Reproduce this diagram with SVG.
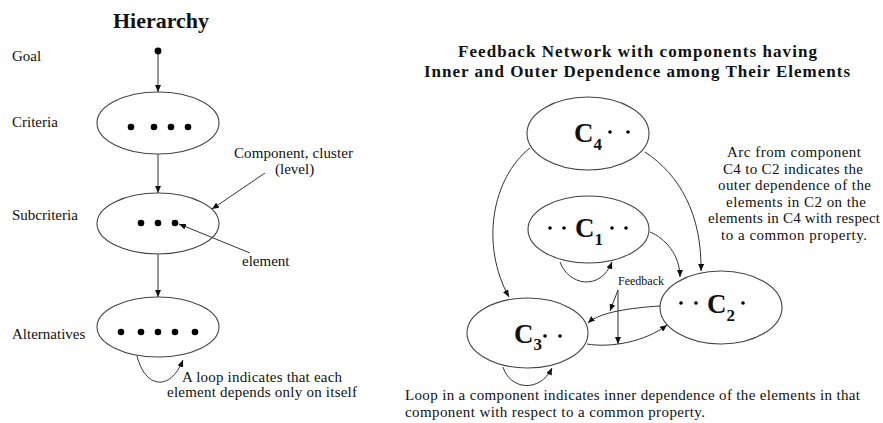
<svg xmlns="http://www.w3.org/2000/svg" width="883" height="423" viewBox="0 0 883 423">
<style>
text{font-family:"Liberation Serif","Times New Roman",serif;fill:#111}
.t{font-size:15px}
.ti{font-size:22px;font-weight:bold}
.tr{font-size:17px;font-weight:bold}
.cl{font-size:27px;font-weight:bold}
.sub{font-size:17px}
.fb{font-size:12px}
.ell{fill:#fff;stroke:#444;stroke-width:1.1}
.ln{fill:none;stroke:#333;stroke-width:1}
.dot{fill:#000}
</style>
<defs>
<marker id="ah" markerWidth="7" markerHeight="6" refX="7" refY="3" orient="auto" markerUnits="userSpaceOnUse">
<path d="M0,0 L7,3 L0,6 z" fill="#111"/>
</marker>
</defs>
<rect width="883" height="423" fill="#fff"/>

<text class="ti" x="161" y="28" text-anchor="middle">Hierarchy</text>
<text class="t" x="12" y="61">Goal</text>
<text class="t" x="12" y="127">Criteria</text>
<text class="t" x="12" y="220">Subcriteria</text>
<text class="t" x="12" y="339">Alternatives</text>

<g id="goal"><circle class="dot" cx="158" cy="51" r="3.4"/></g>
<g id="criteria">
<ellipse class="ell" cx="158" cy="123" rx="61" ry="31"/>
<circle class="dot" cx="131" cy="127" r="3.3"/><circle class="dot" cx="154" cy="127" r="3.3"/><circle class="dot" cx="171" cy="127" r="3.3"/><circle class="dot" cx="188" cy="127" r="3.3"/>
</g>
<g id="subcriteria">
<ellipse class="ell" cx="158" cy="223.5" rx="61" ry="30.5"/>
<circle class="dot" cx="141" cy="223" r="3.3"/><circle class="dot" cx="158" cy="223" r="3.3"/><circle class="dot" cx="175" cy="223" r="3.3"/>
</g>
<g id="alternatives">
<ellipse class="ell" cx="158" cy="327" rx="61" ry="30"/>
<circle class="dot" cx="121" cy="332" r="3.3"/><circle class="dot" cx="141" cy="332" r="3.3"/><circle class="dot" cx="158" cy="332" r="3.3"/><circle class="dot" cx="175" cy="332" r="3.3"/><circle class="dot" cx="195" cy="332" r="3.3"/>
</g>

<text class="t" x="234" y="158" textLength="119">Component, cluster</text>
<text class="t" x="275" y="174">(level)</text>
<text class="t" x="242" y="266">element</text>
<text class="t" x="182" y="382" textLength="160">A loop indicates that each</text>
<text class="t" x="167" y="397" textLength="190">element depends only on itself</text>

<g id="C4">
<ellipse class="ell" cx="588" cy="133.5" rx="61" ry="36.5"/>
<text class="cl" x="574" y="142">C<tspan class="sub" dy="8">4</tspan></text>
<circle class="dot" cx="610" cy="132" r="1.8"/><circle class="dot" cx="628" cy="132" r="1.8"/>
</g>
<g id="C1">
<ellipse class="ell" cx="588.5" cy="229.5" rx="60.5" ry="33.5"/>
<text class="cl" x="575" y="237">C<tspan class="sub" dy="8">1</tspan></text>
<circle class="dot" cx="550" cy="228" r="1.8"/><circle class="dot" cx="564" cy="228" r="1.8"/><circle class="dot" cx="612" cy="228" r="1.8"/><circle class="dot" cx="626" cy="228" r="1.8"/>
</g>
<g id="C2">
<ellipse class="ell" cx="721" cy="307.5" rx="61" ry="36.5"/>
<text class="cl" x="707" y="313">C<tspan class="sub" dy="8">2</tspan></text>
<circle class="dot" cx="681" cy="303" r="1.8"/><circle class="dot" cx="696" cy="303" r="1.8"/><circle class="dot" cx="743" cy="303" r="1.8"/>
</g>
<g id="C3">
<ellipse class="ell" cx="527.5" cy="333" rx="60.5" ry="35"/>
<text class="cl" x="514" y="343">C<tspan class="sub" dy="7">3</tspan></text>
<circle class="dot" cx="545" cy="336" r="1.8"/><circle class="dot" cx="560" cy="336" r="1.8"/>
</g>

<g id="connectors">
<path class="ln" d="M158,54 L158,92" marker-end="url(#ah)"/>
<path class="ln" d="M158,154 L158,193" marker-end="url(#ah)"/>
<path class="ln" d="M158,254 L158,297" marker-end="url(#ah)"/>
<path class="ln" d="M265,173 L212,209" marker-end="url(#ah)"/>
<path class="ln" d="M250,253 L179,224" marker-end="url(#ah)"/>
<path class="ln" d="M137,356 C145,388 170,392 183,360" marker-end="url(#ah)"/>

<path class="ln" d="M530,148 C492,178 480,245 509,297" marker-end="url(#ah)"/>
<path class="ln" d="M645,152 C680,175 702,215 701,271" marker-end="url(#ah)"/>
<path class="ln" d="M650,232 C665,238 680,255 680,277" marker-end="url(#ah)"/>
<path class="ln" d="M560,262 C568,285 600,292 612,262" marker-end="url(#ah)"/>
<path class="ln" d="M503,367 C510,390 540,393 552,368" marker-end="url(#ah)"/>
<path class="ln" d="M660,306 C630,308 600,312 588,323" marker-end="url(#ah)"/>
<path class="ln" d="M587,344 C610,348 645,342 667,325" marker-end="url(#ah)"/>
<path class="ln" d="M618,290 L610,311" marker-end="url(#ah)"/>
<path class="ln" d="M618,290 L618,344" marker-end="url(#ah)"/>
</g>

<text class="tr" x="458" y="57" textLength="359">Feedback Network with components having</text>
<text class="tr" x="424" y="77" textLength="426">Inner and Outer Dependence among Their Elements</text>

<text class="fb" x="618" y="285">Feedback</text>

<text class="t" x="794" y="157" text-anchor="middle" textLength="134">Arc from component</text>
<text class="t" x="793" y="173.5" text-anchor="middle" textLength="140">C4 to C2 indicates the</text>
<text class="t" x="794.5" y="190" text-anchor="middle" textLength="153">outer dependence of the</text>
<text class="t" x="796" y="206.5" text-anchor="middle" textLength="140">elements in C2 on the</text>
<text class="t" x="794" y="223" text-anchor="middle" textLength="172">elements in C4 with respect</text>
<text class="t" x="794" y="239.5" text-anchor="middle" textLength="146">to a common property.</text>

<text class="t" x="405" y="400" textLength="455">Loop in a component indicates inner dependence of the elements in that</text>
<text class="t" x="405" y="417" textLength="300">component with respect to a common property.</text>
</svg>
